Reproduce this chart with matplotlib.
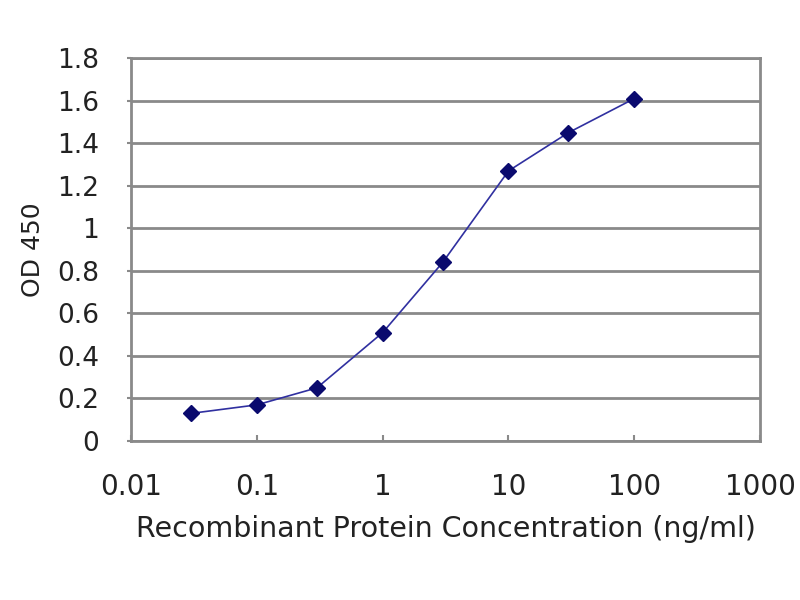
import matplotlib
matplotlib.use("Agg")
import matplotlib.pyplot as plt
from matplotlib.ticker import FixedLocator, NullLocator

# data
conc = [0.03, 0.1, 0.3, 1, 3, 10, 30, 100]
od450 = [0.13, 0.17, 0.25, 0.51, 0.84, 1.27, 1.45, 1.61]
x_ticks = [0.01, 0.1, 1, 10, 100, 1000]
x_tick_labels = ["0.01", "0.1", "1", "10", "100", "1000"]
y_ticks = [0, 0.2, 0.4, 0.6, 0.8, 1, 1.2, 1.4, 1.6, 1.8]
y_tick_labels = ["0", "0.2", "0.4", "0.6", "0.8", "1", "1.2", "1.4", "1.6", "1.8"]

plt.rcParams['font.family'] = ['DejaVu Sans']

fig = plt.figure(figsize=(8, 6), dpi=100)
ax = fig.add_axes([0.164, 0.265, 0.786, 0.638])

# curve with diamond markers
ax.plot(conc, od450, color="#3030a0", linewidth=1.2, zorder=3)
ax.plot(conc, od450, linestyle="none", marker="D", markersize=8,
        color="#0a0a6e", zorder=4)

ax.set_xscale("log")
ax.set_xlim(0.01, 1000)
ax.set_ylim(0, 1.8)

ax.xaxis.set_major_locator(FixedLocator(x_ticks))
ax.xaxis.set_minor_locator(NullLocator())
ax.set_xticklabels(x_tick_labels)
ax.set_yticks(y_ticks)
ax.set_yticklabels(y_tick_labels)

# grid and border
ax.grid(True, axis="y", color="#8a8a8a", linewidth=2)
ax.set_axisbelow(True)
for s in ax.spines.values():
  s.set_color("#8a8a8a")
  s.set_linewidth(2)

ax.tick_params(axis="x", direction="in", length=4, width=1.5, color="#8a8a8a",
               pad=23, labelsize=20, labelcolor="#222222")
ax.tick_params(axis="y", direction="out", length=3, width=1.5, color="#8a8a8a",
               pad=20, labelsize=19, labelcolor="#222222")

# labels
ax.set_xlabel("Recombinant Protein Concentration (ng/ml)", fontsize=20.5,
              color="#222222", labelpad=10)
ax.set_ylabel("OD 450", fontsize=18, color="#222222", labelpad=9)

fig.savefig("out.png", dpi=100)
